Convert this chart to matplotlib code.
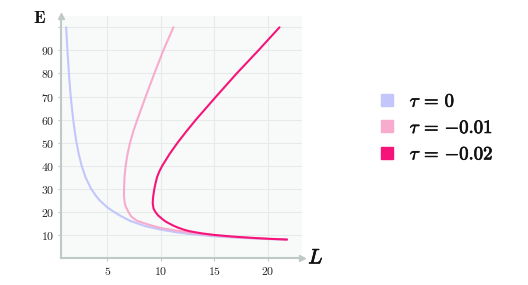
import matplotlib
matplotlib.use("Agg")
import matplotlib.pyplot as plt
import matplotlib.patheffects as pe
from matplotlib.lines import Line2D
from matplotlib.ticker import FuncFormatter

plt.rcParams['mathtext.fontset'] = 'cm'
plt.rcParams['font.family'] = ['DejaVu Serif']

# ---- data ----
series_labels = [r'$\tau\,=\,0$', r'$\tau\,=\,{-0.01}$', r'$\tau\,=\,{-0.02}$']
series_colors = ['#c3c6fb', '#f7abcd', '#f5157a']

E_tau0 = [100, 95, 90, 85, 80, 75, 70, 65, 60, 55, 50, 45, 40, 35, 30, 27, 25, 22,
          20.4, 18.4, 16.1, 13.9, 12.3, 11.1, 10.4, 9.4, 8.7, 8.2, 8.0]
L_tau0 = [1.17, 1.23, 1.29, 1.36, 1.43, 1.51, 1.60, 1.71, 1.83, 1.97, 2.14, 2.35, 2.62, 2.98, 3.50, 3.95, 4.3, 5.0,
          5.5, 6.2, 7.14, 8.5, 10.0, 11.5, 12.75, 15.0, 17.5, 20.0, 21.8]

E_tau1 = [100, 90, 80, 70, 60, 55, 50, 45, 40, 35, 30, 27, 24, 22.5, 20, 18, 16.2,
          15.3, 14.3, 13.0, 12.0, 11.0, 10.0, 9.3, 8.7, 8.3, 8.0]
L_tau1 = [11.19, 10.25, 9.41, 8.6, 7.82, 7.45, 7.14, 6.9, 6.73, 6.62, 6.58, 6.57, 6.64, 6.72, 6.98, 7.25, 7.76,
          8.3, 9.0, 10.0, 11.3, 12.75, 14.5, 16.3, 18.3, 20.0, 21.8]

E_tau2 = [100, 90, 80, 70, 60, 55, 50, 45, 40, 37.5, 35, 32, 30, 27, 25, 23.5, 21.5, 20,
          18.5, 17.1, 16, 15.2, 14, 13.2, 12.3, 11.6, 10.7, 10, 9.3, 8.8, 8.3, 8.0]
L_tau2 = [21.1, 19.13, 17.1, 15.18, 13.3, 12.42, 11.58, 10.82, 10.15, 9.87, 9.66, 9.5, 9.41, 9.31, 9.27, 9.26, 9.33, 9.5,
          9.75, 10.1, 10.4, 10.7, 11.2, 11.6, 12.15, 12.7, 13.8, 15.0, 16.7, 18.3, 20.2, 21.8]

x_ticks = [5, 10, 15, 20]
y_ticks = [10, 20, 30, 40, 50, 60, 70, 80, 90]
y_grid = [10, 20, 30, 40, 50, 60, 70, 80, 90, 100]

# ---- figure ----
fig = plt.figure(figsize=(5.28, 2.85), dpi=100)
ax = fig.add_axes([61/528, 27/285, 241/528, 242/285])
ax.set_facecolor('#f8faf9')

axis_col = '#bfc9c6'
grid_col = '#e6eae9'

for E, L, c in zip([E_tau0, E_tau1, E_tau2], [L_tau0, L_tau1, L_tau2], series_colors):
    ax.plot(L, E, color=c, lw=1.5, solid_capstyle='round', solid_joinstyle='round', zorder=3)

ax.set_xlim(0.69, 23.2)
ax.set_ylim(0, 104.9)

ax.set_xticks(x_ticks)
ax.set_yticks(y_grid)
fmt = FuncFormatter(lambda v, p: '' if v not in y_ticks + x_ticks else f'${v:g}$')
ax.xaxis.set_major_formatter(fmt)
ax.yaxis.set_major_formatter(fmt)
ax.tick_params(axis='both', length=2, width=0.8, color=axis_col, labelsize=8.5,
               labelcolor='#222222', pad=3)
ax.grid(True, color=grid_col, lw=0.8, zorder=0)

for s in ['top', 'right']:
    ax.spines[s].set_visible(False)
for s in ['left', 'bottom']:
    ax.spines[s].set_color(axis_col)
    ax.spines[s].set_linewidth(1.5)

# arrow heads
ax.plot(1, 0, marker='>', color=axis_col, markersize=5, transform=ax.transAxes, clip_on=False)
ax.plot(0, 1, marker='^', color=axis_col, markersize=5, transform=ax.transAxes, clip_on=False)

# axis labels
fig.text(40/528, 1 - 18/285, r'$\mathbf{E}$', fontsize=13, ha='center', va='center', color='#111111')
fig.text(316/528, 1 - 258/285, r'$L$', fontsize=15, ha='center', va='center', color='#111111',
         path_effects=[pe.withStroke(linewidth=0.5, foreground='#111111')])

# legend
handles = [Line2D([], [], marker='s', linestyle='none', markersize=9,
                  markerfacecolor=c, markeredgecolor=c) for c in series_colors]
leg = fig.legend(handles, series_labels, loc='center left', bbox_to_anchor=(361/528, 1 - 128/285),
                 frameon=False, fontsize=13.5, handletextpad=0.7, labelspacing=0.45,
                 handlelength=1.0)
for t in leg.get_texts():
    t.set_color('#111111')
    t.set_path_effects([pe.withStroke(linewidth=0.5, foreground='#111111')])

fig.savefig('out.png', dpi=100)
